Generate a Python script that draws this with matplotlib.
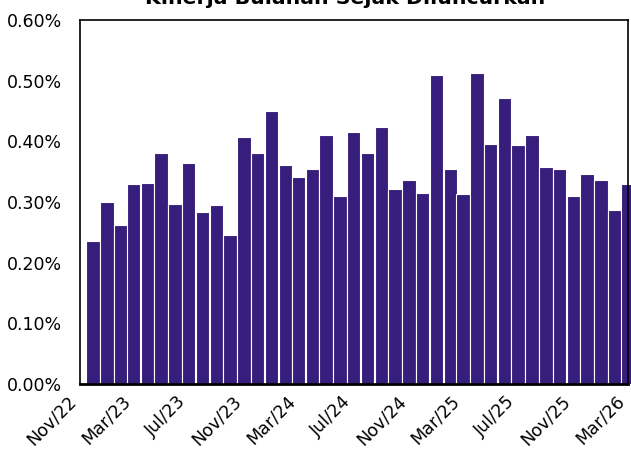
import matplotlib
matplotlib.use('Agg')
import matplotlib.pyplot as plt
import matplotlib.dates as mdates
import matplotlib.ticker as mticker
import pandas as pd

# monthly returns (%), Nov/22 .. Feb/26, plotted at month end
months = pd.date_range('2022-11-30', '2026-02-28', freq='ME')
returns = [0.235, 0.300, 0.262, 0.330, 0.332, 0.380, 0.296, 0.365, 0.283, 0.295,
           0.246, 0.407, 0.380, 0.450, 0.361, 0.342, 0.354, 0.411, 0.310, 0.416,
           0.380, 0.424, 0.321, 0.336, 0.314, 0.509, 0.355, 0.313, 0.512, 0.396,
           0.472, 0.394, 0.410, 0.357, 0.354, 0.310, 0.346, 0.336, 0.287, 0.329]
title = 'Kinerja Bulanan Sejak Diluncurkan'

plt.rcParams['font.family'] = ['DejaVu Sans']

fig = plt.figure(figsize=(6.31, 4.51), dpi=100)
ax = fig.add_axes([0.1268, 0.1486, 0.8685, 0.8071])

ax.bar(months, returns, width=30, color='#381e7c', edgecolor='white',
       linewidth=0.8, clip_on=False, zorder=2)

ax.set_xlim(pd.Timestamp('2022-11-01'), pd.Timestamp('2026-03-01'))
ax.set_ylim(0, 0.6)
ax.yaxis.set_major_locator(mticker.MultipleLocator(0.1))
ax.yaxis.set_major_formatter(mticker.FuncFormatter(lambda v, p: f'{v:.2f}%'))
ax.xaxis.set_major_locator(mdates.MonthLocator(bymonth=[3, 7, 11]))
ax.xaxis.set_major_formatter(mdates.DateFormatter('%b/%y'))

ax.tick_params(axis='y', length=0, pad=13, labelsize=12.5)
ax.tick_params(axis='x', length=0, pad=6, labelsize=12.5)
plt.setp(ax.get_xticklabels(), rotation=45, ha='right')

for s in ['top', 'right', 'left']:
    ax.spines[s].set_linewidth(1.2)
ax.spines['bottom'].set_linewidth(2)
ax.spines['bottom'].set_zorder(3)

fig.text(345 / 631, 1 - 4 / 451, title, ha='center', va='baseline',
         fontsize=14.7, fontweight='bold')

fig.savefig('out.png', dpi=100)
